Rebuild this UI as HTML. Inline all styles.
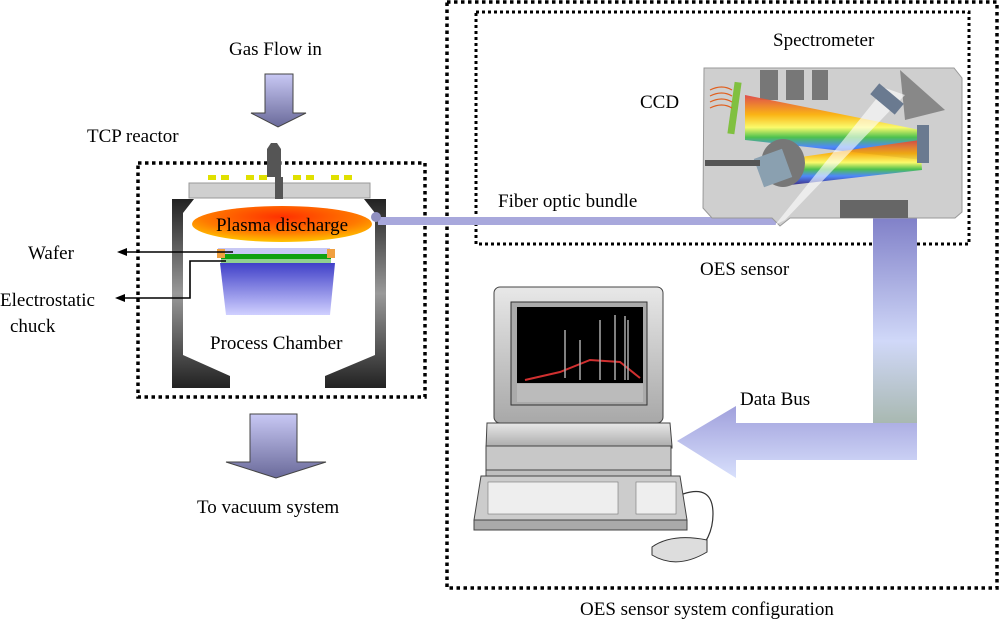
<!DOCTYPE html>
<html><head><meta charset="utf-8"><style>
html,body{margin:0;padding:0;background:#fff;}
svg{display:block;font-family:"Liberation Serif",serif;}
</style></head><body>
<svg width="1000" height="625" viewBox="0 0 1000 625" xmlns="http://www.w3.org/2000/svg">
<defs>
<linearGradient id="arr" x1="0" y1="0" x2="0" y2="1"><stop offset="0" stop-color="#c8c8f4"/><stop offset="1" stop-color="#6a6a9a"/></linearGradient>
<radialGradient id="pl" cx="0.5" cy="0.3" r="0.8"><stop offset="0" stop-color="#ff3000"/><stop offset="0.55" stop-color="#ff7a00"/><stop offset="1" stop-color="#ffe000"/></radialGradient>
<linearGradient id="wall" x1="0" y1="0" x2="0" y2="1"><stop offset="0" stop-color="#222"/><stop offset="0.5" stop-color="#999"/><stop offset="1" stop-color="#222"/></linearGradient>
<linearGradient id="chuck" x1="0" y1="0" x2="0" y2="1"><stop offset="0" stop-color="#4040c8"/><stop offset="1" stop-color="#d0d0ff"/></linearGradient>
<linearGradient id="bus" x1="0" y1="0" x2="0" y2="1"><stop offset="0" stop-color="#8080c8"/><stop offset="0.6" stop-color="#d0d8f8"/><stop offset="1" stop-color="#a8b8b0"/></linearGradient>
<linearGradient id="busH" x1="0" y1="0" x2="0" y2="1"><stop offset="0" stop-color="#a0a0dc"/><stop offset="1" stop-color="#d8e0fc"/></linearGradient>
<linearGradient id="rain" x1="0" y1="0" x2="0" y2="1"><stop offset="0" stop-color="#e04040"/><stop offset="0.3" stop-color="#ffb000"/><stop offset="0.5" stop-color="#ffff60"/><stop offset="0.65" stop-color="#40c040"/><stop offset="0.8" stop-color="#4080ff"/><stop offset="1" stop-color="#302080"/></linearGradient>
<linearGradient id="gr" x1="0" y1="0" x2="0" y2="1"><stop offset="0" stop-color="#e8e8e8"/><stop offset="1" stop-color="#a8a8a8"/></linearGradient>
</defs>

<rect x="138" y="163" width="287" height="234" fill="none" stroke="#000" stroke-width="3.5" stroke-dasharray="3.5 3.5"/>
<rect x="447" y="2" width="550" height="586" fill="none" stroke="#000" stroke-width="3.5" stroke-dasharray="3.5 3.5"/>
<rect x="476" y="12" width="493" height="232" fill="none" stroke="#000" stroke-width="3" stroke-dasharray="3 3"/>

<g font-size="19" fill="#000">
<text x="229" y="55">Gas Flow in</text>
<text x="87" y="142">TCP reactor</text>
<text x="28" y="259">Wafer</text>
<text x="0" y="306">Electrostatic</text>
<text x="10" y="332">chuck</text>
<text x="210" y="349">Process Chamber</text>
<text x="197" y="513">To vacuum system</text>
<text x="498" y="207">Fiber optic bundle</text>
<text x="773" y="46">Spectrometer</text>
<text x="640" y="108">CCD</text>
<text x="700" y="275">OES sensor</text>
<text x="740" y="405">Data Bus</text>
<text x="580" y="615">OES sensor system configuration</text>
</g>

<path d="M265 74 H293 V113 H306 L278 127 L251 113 H265 Z" fill="url(#arr)" stroke="#444"/>
<path d="M250 414 H297 V462 H326 L276 478 L226 462 H250 Z" fill="url(#arr)" stroke="#444"/>

<rect x="189" y="183" width="181" height="15" fill="#cfcfcf" stroke="#999"/>
<g fill="#e0e000"><rect x="208" y="175" width="8" height="5"/><rect x="221" y="175" width="8" height="5"/><rect x="246" y="175" width="8" height="5"/><rect x="259" y="175" width="8" height="5"/><rect x="293" y="175" width="8" height="5"/><rect x="306" y="175" width="8" height="5"/><rect x="331" y="175" width="8" height="5"/><rect x="344" y="175" width="8" height="5"/></g>
<path d="M271 143 h6 l4 6 v28 h-14 v-28 Z" fill="#555"/>
<rect x="275" y="177" width="8" height="22" fill="#555"/>
<path d="M172 199 H194 L183 213 V355 L230 376 V388 H172 Z" fill="url(#wall)"/>
<path d="M386 199 H364 L375 213 V355 L325 376 V388 H386 Z" fill="url(#wall)"/>
<ellipse cx="282" cy="224" rx="90" ry="18" fill="url(#pl)"/>
<text x="282" y="231" font-size="19" text-anchor="middle">Plasma discharge</text>
<rect x="218" y="248" width="112" height="6" fill="#c8c8f4"/>
<rect x="221" y="254" width="110" height="5" fill="#10a010"/>
<rect x="221" y="259" width="110" height="4" fill="#90d090"/>
<rect x="217" y="249" width="8" height="9" fill="#f0a040"/>
<rect x="327" y="249" width="8" height="9" fill="#f0a040"/>
<path d="M220 263 H335 L330 315 H226 Z" fill="url(#chuck)"/>
<g stroke="#000" stroke-width="1.6" fill="none">
<line x1="233" y1="252" x2="126" y2="252"/>
<polyline points="226,261 190,261 190,298 124,298"/>
</g>
<path d="M117 252 l10 -4 v8 Z M115 298 l10 -4 v8 Z"/>

<rect x="378" y="217" width="398" height="8" fill="#a8a8dc"/>
<circle cx="376" cy="217" r="5" fill="#9090c0"/>

<rect x="873" y="217" width="44" height="207" fill="url(#bus)"/>
<path d="M917 423 V460 H736 V478 L677 441 L736 406 V423 Z" fill="url(#busH)"/>

<path d="M704 68 H954 L962 78 V212 L955 218 H790 L780 226 L772 218 H712 L703 208 Z" fill="#cfcfcf" stroke="#999"/>
<path d="M760 70 h18 v30 h-18 Z M786 70 h18 v30 h-18 Z M812 70 h16 v30 h-16 Z" fill="#777"/>
<path d="M900 70 L945 110 L905 120 Z" fill="#888"/>
<path d="M745 95 L920 130 L922 160 L745 140 Z" fill="url(#rain)" opacity="0.9"/>
<path d="M780 160 L920 140 L922 170 L790 185 Z" fill="url(#rain)" opacity="0.9"/>
<path d="M775 225 L885 88 L905 95 L785 220 Z" fill="#fff" opacity="0.6"/>
<ellipse cx="783" cy="163" rx="22" ry="24" fill="#777"/>
<rect x="758" y="153" width="30" height="30" fill="#8aa0b0" transform="rotate(-20 773 168)"/>
<rect x="880" y="83" width="14" height="32" fill="#6a7a90" transform="rotate(-50 887 99)"/>
<rect x="917" y="125" width="12" height="38" fill="#6a7a90"/>
<rect x="731" y="82" width="7" height="52" fill="#80c040" transform="rotate(8 734 108)"/>
<path d="M710 90 q12 -6 22 0 M710 96 q12 -6 22 0 M710 102 q12 -6 22 0 M710 108 q12 -6 22 0" stroke="#e06020" fill="none" stroke-width="1.2"/>
<rect x="705" y="160" width="55" height="6" fill="#555"/>
<rect x="840" y="200" width="68" height="18" fill="#666"/>

<rect x="494" y="287" width="169" height="136" rx="6" fill="url(#gr)" stroke="#444"/>
<rect x="511" y="302" width="136" height="103" fill="#aaa" stroke="#333"/>
<rect x="517" y="307" width="126" height="76" fill="#000"/>
<rect x="517" y="384" width="126" height="18" fill="#bbb"/>
<path d="M525 380 L560 372 L590 360 L620 362 L640 378" stroke="#d03030" fill="none" stroke-width="2"/>
<path d="M565 330 v48 M580 340 v40 M600 320 v60 M615 315 v65 M625 316 v64 M628 320 v60" stroke="#aaa" stroke-width="1.5"/>
<path d="M487 423 H670 L672 446 V448 H486 Z" fill="url(#gr)" stroke="#444"/>
<rect x="486" y="446" width="185" height="24" fill="#c8c8c8" stroke="#444"/>
<rect x="486" y="470" width="185" height="26" fill="#bfbfbf" stroke="#444"/>
<path d="M481 476 H680 L687 520 H474 Z" fill="#ccc" stroke="#444"/>
<rect x="474" y="520" width="213" height="10" fill="#aaa" stroke="#444"/>
<g fill="#eee" stroke="#777" stroke-width="0.6">
<rect x="488" y="482" width="130" height="32"/><rect x="636" y="482" width="40" height="32"/>
</g>
<path d="M683 494 q30 -10 30 20 q0 25 -20 42" stroke="#333" fill="none" stroke-width="1.2"/>
<path d="M652 547 q20 -14 55 -7 l0 12 q-30 18 -55 3 Z" fill="#ddd" stroke="#333"/>
</svg>
</body></html>
